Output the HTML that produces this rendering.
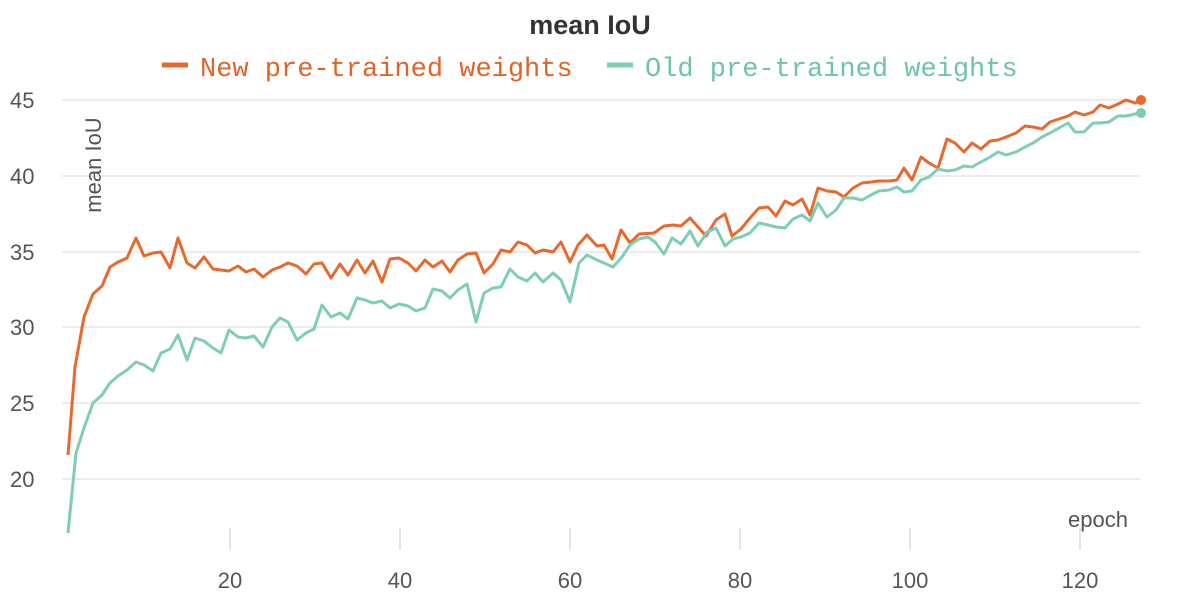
<!DOCTYPE html>
<html><head><meta charset="utf-8"><style>
html,body{margin:0;padding:0;background:#fff;}
svg text{font-family:"Liberation Sans",sans-serif;}
</style></head><body>
<svg width="1200" height="609" viewBox="0 0 1200 609" xmlns="http://www.w3.org/2000/svg">
<text x="590" y="34" text-anchor="middle" font-size="27" font-weight="bold" fill="#333">mean IoU</text>
<line x1="162" y1="65" x2="188" y2="65" stroke="#e8692d" stroke-width="5"/>
<text x="200" y="76" font-size="27" fill="#e0642a" style="font-family:'Liberation Mono',monospace">New pre-trained weights</text>
<line x1="607" y1="65" x2="633" y2="65" stroke="#7ecdb8" stroke-width="5"/>
<text x="645" y="76" font-size="27" fill="#6ec3ad" style="font-family:'Liberation Mono',monospace">Old pre-trained weights</text>
<g stroke="#e6e6e6" stroke-width="1.5">
<line x1="62" y1="100" x2="1140" y2="100"/><line x1="62" y1="176" x2="1140" y2="176"/>
<line x1="62" y1="252" x2="1140" y2="252"/><line x1="62" y1="327" x2="1140" y2="327"/>
<line x1="62" y1="403" x2="1140" y2="403"/><line x1="62" y1="479" x2="1140" y2="479"/>
</g>
<g stroke="#ddd" stroke-width="1.5">
<line x1="230" y1="528" x2="230" y2="550"/><line x1="400" y1="528" x2="400" y2="550"/>
<line x1="570" y1="528" x2="570" y2="550"/><line x1="740" y1="528" x2="740" y2="550"/>
<line x1="910" y1="528" x2="910" y2="550"/><line x1="1080" y1="528" x2="1080" y2="550"/>
</g>
<g font-size="22" fill="#555">
<text x="10" y="108">45</text><text x="10" y="184">40</text><text x="10" y="260">35</text>
<text x="10" y="335">30</text><text x="10" y="411">25</text><text x="10" y="487">20</text>
<g text-anchor="middle">
<text x="230" y="588">20</text><text x="400" y="588">40</text><text x="570" y="588">60</text>
<text x="740" y="588">80</text><text x="910" y="588">100</text><text x="1080" y="588">120</text>
</g>
<text x="1128" y="527" text-anchor="end">epoch</text>
<text transform="translate(101,165) rotate(-90)" text-anchor="middle">mean IoU</text>
</g>
<polyline id="o" fill="none" stroke="#e8692d" stroke-width="3" stroke-linejoin="round" points="68,455 75,367 84,317 93,294 102,286 110,267 118,262 127,258 136,238 144,256 153,253 161,252 170,268 178,238 187,263 195,268 204,257 213,269 221,270 229,271 238,266 246,272 254,269 263,277 272,270 280,267 288,263 297,266 306,274 314,264 322,263 331,278 340,264 348,275 357,260 365,273 373,261 382,282 390,259 399,258 408,263 416,271 425,260 433,267 442,261 450,272 458,260 467,254 476,253 484,273 493,264 501,250 510,252 518,242 527,245 535,253 543,250 553,252 561,242 570,262 578,245 587,235 597,246 604,245 612,259 621,230 630,243 639,234 654,233 664,226 673,225 681,226 690,218 698,227 706,236 716,220 725,214 732,236 741,229 750,218 759,208 768,207 776,216 785,201 793,205 802,199 810,215 818,188 827,191 836,192 844,197 853,188 862,183 871,182 879,181 889,181 897,180 904,168 912,180 921,157 929,163 938,168 947,139 955,143 964,152 972,143 981,149 990,141 998,140 1006,137 1016,133 1025,126 1033,127 1042,129 1050,122 1059,119 1068,116 1075,112 1084,115 1093,112 1100,105 1109,108 1118,104 1126,100 1135,103 1141,100"/>
<polyline fill="none" stroke="#7ecdb8" stroke-width="3" stroke-linejoin="round" points="68,533 76,453 84,428 93,403 102,395 110,383 118,376 127,370 136,362 144,365 153,371 161,353 170,349 178,335 187,360 195,338 204,341 213,348 221,353 229,330 238,337 246,338 254,336 263,347 272,327 280,318 288,322 297,340 306,333 314,329 322,305 331,317 340,313 348,319 357,298 365,300 373,303 382,301 390,308 399,304 408,306 416,311 425,308 433,289 442,291 450,298 458,290 467,284 476,322 484,293 493,288 501,287 510,269 518,277 527,281 535,273 543,282 553,273 561,280 570,302 579,263 587,255 597,260 604,263 613,267 622,257 630,245 639,239 648,237 655,242 664,254 672,238 681,244 690,231 698,246 707,232 716,228 725,246 733,239 741,237 750,233 759,223 768,225 776,227 785,228 793,219 802,215 810,221 818,203 827,217 836,210 844,198 853,198 862,200 871,195 879,191 889,190 897,187 904,192 912,191 921,180 929,177 938,169 947,171 955,170 964,166 972,167 981,162 990,157 998,152 1006,155 1016,152 1025,147 1033,143 1042,137 1050,133 1059,128 1068,123 1075,132 1084,132 1093,123 1100,123 1109,122 1118,116 1126,116 1135,114 1141,113"/>
<circle cx="1141" cy="100" r="5" fill="#e8692d"/>
<circle cx="1141" cy="113" r="5" fill="#7ecdb8"/>
</svg>
</body></html>
